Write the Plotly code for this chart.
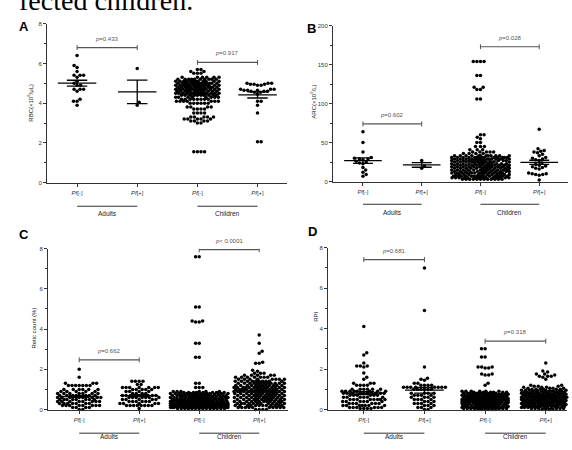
import numpy as np
import plotly.graph_objects as go

W, H = 572, 450

# ---------------- data ----------------
cat_labels = ["<i>Pf</i>[-]", "<i>Pf</i>[+]", "<i>Pf</i>[-]", "<i>Pf</i>[+]"]
group_labels = ["Adults", "Children"]

# Panel A : RBC
a_adult_neg = [6.4, 5.9, 5.8, 5.6, 5.4, 5.4, 5.4, 5.3, 5.1, 5.0, 4.9, 4.9, 4.7, 4.7, 4.7, 4.6, 4.2, 4.1, 4.1, 3.9]
a_adult_pos = [5.75, 4.05, 3.9]
a_child_neg_vals = [5.7, 5.6, 5.5, 5.3, 5.2, 5.1, 5.0, 4.9, 4.8, 4.7, 4.6, 4.5, 4.4, 4.3, 4.2, 4.1, 4.0, 3.8, 3.7, 3.5, 3.3, 3.2, 3.1, 3.0, 1.55]
a_child_neg_counts = [2, 2, 3, 6, 10, 12, 14, 14, 14, 14, 12, 12, 10, 8, 8, 7, 6, 4, 4, 4, 5, 5, 4, 2, 4]
a_child_pos = [5.0, 5.0, 5.0, 4.95, 4.95, 4.95, 4.9, 4.9, 4.7, 4.7, 4.7, 4.65, 4.65, 4.65, 4.6, 4.6, 4.6,
               4.55, 4.55, 4.45, 4.1, 4.1, 3.9, 3.5, 2.05, 2.05]
a_brackets_y = [6.8, 6.05]
a_pvalues = ["<i>p</i>=0.433", "<i>p</i>=0.917"]

# Panel B : ARC
b_adult_neg = [64, 50, 38, 31, 30, 29, 29, 28, 26, 25, 24, 23, 18, 15, 12, 9, 7]
b_adult_pos = [27, 20, 17]
b_child_neg_vals = [154, 136, 121, 118, 106, 60, 57, 55, 50, 45, 41, 38, 36,
                    33, 31, 29, 27, 25, 23, 21, 19, 17, 15, 13, 11, 9, 7, 5, 3]
b_child_neg_counts = [4, 2, 2, 2, 2, 2, 1, 1, 2, 3, 3, 5, 4,
                      12, 14, 12, 10, 10, 12, 12, 12, 12, 12, 12, 12, 12, 14, 14, 12]
b_child_pos = [67, 42, 40, 39, 38, 37, 35, 33, 31, 30, 29, 28, 27, 24, 22, 21, 20, 19, 18, 17, 16,
               11, 10, 10, 9, 9, 8, 2]
b_brackets_y = [74, 173]
b_pvalues = ["<i>p</i>=0.602", "<i>p</i>=0.028"]

# Panel C : Retic count (%)
c_adult_neg_vals = [2.0, 1.6, 1.3, 1.2, 1.0, 0.9, 0.8, 0.7, 0.6, 0.5, 0.4, 0.3, 0.2, 0.1, 0.0]
c_adult_neg_counts = [1, 1, 3, 7, 6, 5, 7, 7, 8, 8, 8, 7, 8, 4, 2]
c_adult_pos_vals = [1.4, 1.25, 1.1, 1.0, 0.9, 0.8, 0.7, 0.6, 0.5, 0.4, 0.3, 0.2, 0.05]
c_adult_pos_counts = [4, 2, 7, 5, 4, 4, 5, 7, 5, 6, 5, 8, 1]
c_child_neg_vals = [7.6, 5.1, 4.4, 4.35, 3.3, 2.6, 1.3, 1.1, 0.9, 0.85, 0.8, 0.75, 0.7, 0.65, 0.6, 0.55,
                    0.5, 0.45, 0.4, 0.35, 0.3, 0.25, 0.2, 0.15, 0.1, 0.05]
c_child_neg_counts = [2, 2, 2, 2, 2, 2, 2, 3, 6, 8, 10, 6, 10, 8, 10, 8, 12, 10, 14, 12, 14, 12, 14, 12, 14, 14]
c_child_pos_vals = [3.7, 3.3, 2.9, 2.8, 2.35, 2.3, 1.95, 1.9, 1.8, 1.7, 1.6, 1.5, 1.4, 1.3, 1.2, 1.1, 1.0,
                    0.9, 0.8, 0.7, 0.6, 0.5, 0.4, 0.3, 0.2, 0.1, 0.0]
c_child_pos_counts = [1, 1, 1, 1, 1, 2, 1, 1, 3, 5, 7, 8, 10, 12, 12, 14, 14, 14, 12, 12, 12, 12, 12, 12, 12, 10, 4]
c_brackets_y = [2.47, 7.95]
c_pvalues = ["<i>p</i>=0.662", "<i>p</i>< 0.0001"]

# Panel D : RPI
d_adult_neg_vals = [4.1, 2.8, 2.7, 2.3, 2.15, 2.1, 1.8, 1.6, 1.5, 1.3, 1.2, 1.0, 0.9, 0.8, 0.7, 0.6, 0.5,
                    0.4, 0.3, 0.2, 0.1, 0.05]
d_adult_neg_counts = [1, 1, 1, 1, 3, 1, 1, 1, 1, 3, 4, 6, 8, 10, 6, 6, 8, 6, 6, 7, 6, 4]
d_adult_pos_vals = [7.0, 4.9, 2.1, 1.55, 1.5, 1.45, 1.3, 1.2, 1.1, 1.0, 0.8, 0.7, 0.6, 0.5, 0.4, 0.3, 0.2, 0.1, 0.0]
d_adult_pos_counts = [1, 1, 1, 1, 1, 1, 2, 4, 8, 6, 4, 4, 4, 4, 3, 4, 3, 3, 2]
d_child_neg_vals = [3.0, 2.6, 2.1, 2.05, 1.75, 1.7, 1.3, 1.2, 0.9, 0.85, 0.8, 0.75, 0.7, 0.65, 0.6, 0.55,
                    0.5, 0.45, 0.4, 0.35, 0.3, 0.25, 0.2, 0.15, 0.1, 0.05, 0.0]
d_child_neg_counts = [2, 2, 3, 2, 2, 2, 1, 1, 6, 6, 8, 8, 10, 8, 10, 8, 10, 8, 10, 8, 10, 8, 10, 8, 10, 8, 6]
d_child_pos_vals = [2.3, 1.9, 1.85, 1.75, 1.7, 1.65, 1.6, 1.5, 1.2, 1.15, 1.1, 1.05, 1.0, 0.95, 0.9, 0.85,
                    0.8, 0.75, 0.7, 0.65, 0.6, 0.55, 0.5, 0.45, 0.4, 0.35, 0.3, 0.25, 0.2, 0.15, 0.1, 0.05, 0.0]
d_child_pos_counts = [1, 1, 1, 2, 1, 3, 1, 1, 2, 3, 4, 4, 6, 6, 8, 8, 8, 8, 10, 8, 10, 8, 10, 8, 10, 8, 10,
                      8, 10, 8, 8, 6, 4]
d_brackets_y = [7.41, 3.38]
d_pvalues = ["<i>p</i>=0.681", "<i>p</i>=0.318"]


def expand(vals, counts):
    return list(np.repeat(np.asarray(vals, float), counts))


# ---------------- panel geometry (pixels) ----------------
panels = [
    dict(letter="A", letter_xy=(17, 14),
         groups=[a_adult_neg, a_adult_pos, expand(a_child_neg_vals, a_child_neg_counts), a_child_pos],
         spread=[0.36, 0.36, 0.36, 0.38],
         yr=[0, 8], dtick=2, minor=1, ytitle="RBC(×10<sup>6</sup>/μL)", ytitle_xy=(30, 101),
         xpx=(47, 287), ypx=(21, 182), xr=[-0.5, 3.49],
         brackets=a_brackets_y, pvals=a_pvalues,
         gline_y=206, gtext_y=213),
    dict(letter="B", letter_xy=(311, 16),
         groups=[b_adult_neg, b_adult_pos, expand(b_child_neg_vals, b_child_neg_counts), b_child_pos],
         spread=[0.36, 0.36, 0.49, 0.36],
         yr=[0, 200], dtick=50, minor=25, ytitle="ARC(×10<sup>9</sup>/L)", ytitle_xy=(313, 100),
         xpx=(333, 568), ypx=(23, 181), xr=[-0.51, 3.49],
         brackets=b_brackets_y, pvals=b_pvalues,
         gline_y=204, gtext_y=212),
    dict(letter="C", letter_xy=(17, 235),
         groups=[expand(c_adult_neg_vals, c_adult_neg_counts), expand(c_adult_pos_vals, c_adult_pos_counts),
                 expand(c_child_neg_vals, c_child_neg_counts), expand(c_child_pos_vals, c_child_pos_counts)],
         spread=[0.36, 0.36, 0.48, 0.42],
         yr=[0, 8], dtick=2, minor=1, ytitle="Retic count (%)", ytitle_xy=(34, 330),
         xpx=(48, 288), ypx=(249, 412), xr=[-0.52, 3.48],
         brackets=c_brackets_y, pvals=c_pvalues,
         gline_y=436, gtext_y=445),
    dict(letter="D", letter_xy=(312, 232),
         groups=[expand(d_adult_neg_vals, d_adult_neg_counts), expand(d_adult_pos_vals, d_adult_pos_counts),
                 expand(d_child_neg_vals, d_child_neg_counts), expand(d_child_pos_vals, d_child_pos_counts)],
         spread=[0.36, 0.36, 0.38, 0.40],
         yr=[0, 8], dtick=2, minor=1, ytitle="RPI", ytitle_xy=(316, 318),
         xpx=(328, 567), ypx=(248, 412), xr=[-0.59, 3.35],
         brackets=d_brackets_y, pvals=d_pvalues,
         gline_y=436, gtext_y=445),
]

MARKER = 3.5
DIST = 3.6


def swarm(vals, ppu_y, d, maxhalf):
    """Beeswarm offsets (pixels); points that cannot fit inside +-maxhalf are
    placed where they overlap least."""
    v = np.asarray(vals, float)
    order = np.argsort(v, kind="stable")
    ys = v[order] * ppu_y
    xs = np.zeros(len(ys))
    grid = np.linspace(-maxhalf, maxhalf, 61)
    for i in range(1, len(ys)):
        py = ys[:i]
        px = xs[:i]
        m = np.abs(py - ys[i]) < d
        if not m.any():
            continue
        npy, npx = py[m], px[m]
        dy = ys[i] - npy
        dx = np.sqrt(np.maximum(d * d - dy * dy, 0))
        cands = np.concatenate([[0.0], npx + dx, npx - dx])
        cands = cands[np.abs(cands) <= maxhalf]
        side = 1 if i % 2 else -1
        key = np.abs(cands) + 1e-6 * (np.sign(cands) == -side)
        cands = cands[np.argsort(key)]
        placed = False
        for c in cands:
            if np.all((c - npx) ** 2 + dy ** 2 >= d * d - 1e-6):
                xs[i] = c
                placed = True
                break
        if not placed:
            dist2 = (grid[:, None] - npx[None, :]) ** 2 + dy[None, :] ** 2
            score = dist2.min(axis=1) - 1e-4 * np.abs(grid)
            xs[i] = grid[np.argmax(score)]
    out = np.empty_like(xs)
    out[order] = xs
    return out


def px2paper(x, y):
    return x / W, 1 - y / H


fig = go.Figure()
layout = dict(width=W, height=H, margin=dict(l=0, r=0, t=0, b=0),
              paper_bgcolor="white", plot_bgcolor="white", showlegend=False,
              font=dict(family="Liberation Sans, Arial, sans-serif", size=6, color="#222"))
annotations = []
shapes = []
AX = "#333"

for k, p in enumerate(panels, start=1):
    xs_name = "x" if k == 1 else f"x{k}"
    ys_name = "y" if k == 1 else f"y{k}"
    xkey = "xaxis" if k == 1 else f"xaxis{k}"
    ykey = "yaxis" if k == 1 else f"yaxis{k}"
    x0, x1 = p["xpx"]
    y0, y1 = p["ypx"]
    ppu_x = (x1 - x0) / (p["xr"][1] - p["xr"][0])
    ppu_y = (y1 - y0) / (p["yr"][1] - p["yr"][0])

    layout[xkey] = dict(domain=[x0 / W, x1 / W], range=p["xr"], anchor=ys_name,
                        showline=True, linecolor=AX, linewidth=1, mirror=False,
                        tickvals=[0, 1, 2, 3], ticktext=cat_labels, ticks="outside", ticklen=3,
                        tickcolor=AX, tickwidth=1, tickfont=dict(size=6, color="#333"),
                        ticklabelstandoff=1,
                        showgrid=False, zeroline=False, fixedrange=True)
    layout[ykey] = dict(domain=[1 - y1 / H, 1 - y0 / H], range=p["yr"], anchor=xs_name,
                        showline=True, linecolor=AX, linewidth=1,
                        tick0=0, dtick=p["dtick"], ticks="outside", ticklen=3, tickcolor=AX, tickwidth=1,
                        minor=dict(dtick=p["minor"], ticks="outside", ticklen=2, tickcolor=AX),
                        tickfont=dict(size=6, color="#333"),
                        showgrid=False, zeroline=False, fixedrange=True)

    mx, my = [], []
    for gi, vals in enumerate(p["groups"]):
        vals = np.asarray(vals, float)
        off = swarm(vals, ppu_y, DIST, p["spread"][gi] * ppu_x) / ppu_x
        fig.add_trace(go.Scatter(x=gi + off, y=vals, mode="markers", xaxis=xs_name, yaxis=ys_name,
                                 marker=dict(size=MARKER, color="black", line=dict(width=0)),
                                 cliponaxis=False, hoverinfo="skip"))
        m = vals.mean()
        sem = vals.std(ddof=1) / np.sqrt(len(vals))
        mx += [gi - 0.32, gi + 0.32, None, gi - 0.17, gi + 0.17, None, gi - 0.17, gi + 0.17, None, gi, gi, None]
        my += [m, m, None, m + sem, m + sem, None, m - sem, m - sem, None, m - sem, m + sem, None]
    fig.add_trace(go.Scatter(x=mx, y=my, mode="lines", xaxis=xs_name, yaxis=ys_name,
                             line=dict(color="black", width=1.3), cliponaxis=False, hoverinfo="skip"))

    # significance brackets
    for bi, (by, ptxt) in enumerate(zip(p["brackets"], p["pvals"])):
        c0, c1 = 2 * bi, 2 * bi + 1
        shapes.append(dict(type="line", xref=xs_name, yref=ys_name, x0=c0, x1=c1, y0=by, y1=by,
                           line=dict(color="#555", width=1.2)))
        for cc in (c0, c1):
            shapes.append(dict(type="line", xref=xs_name, yref=ys_name, ysizemode="pixel", yanchor=by,
                               x0=cc, x1=cc, y0=-2.5, y1=2.5, line=dict(color="#555", width=1)))
        annotations.append(dict(x=(c0 + c1) / 2, y=by, xref=xs_name, yref=ys_name, text=ptxt,
                                showarrow=False, yanchor="bottom", yshift=4,
                                font=dict(size=6, color="#555")))

    # group lines and labels
    for gi, gname in enumerate(group_labels):
        c0, c1 = 2 * gi, 2 * gi + 1
        _, gy = px2paper(0, p["gline_y"])
        shapes.append(dict(type="line", xref=xs_name, yref="paper", x0=c0, x1=c1, y0=gy, y1=gy,
                           line=dict(color="#333", width=1)))
        _, ty = px2paper(0, p["gtext_y"])
        annotations.append(dict(x=(c0 + c1) / 2, y=ty, xref=xs_name, yref="paper", text=gname,
                                showarrow=False, font=dict(size=6.5, color="#222")))

    # y title
    tx, ty = px2paper(*p["ytitle_xy"])
    annotations.append(dict(x=tx, y=ty, xref="paper", yref="paper", text=p["ytitle"], textangle=-90,
                            xanchor="center", yanchor="middle",
                            showarrow=False, font=dict(size=6, color="#222")))
    # panel letter
    lx, ly = px2paper(*p["letter_xy"])
    annotations.append(dict(x=lx, y=ly, xref="paper", yref="paper", text="<b>" + p["letter"] + "</b>",
                            showarrow=False, font=dict(size=13, color="black",
                                                       family="Liberation Sans, Arial, sans-serif")))

# cropped caption text at the very top
cx, cy = px2paper(17, 15)
annotations.append(dict(x=cx, y=cy, xref="paper", yref="paper", text="fected children.", xanchor="left",
                        yanchor="bottom", showarrow=False,
                        font=dict(size=28, color="black", family="Liberation Serif, Times New Roman, serif")))

layout["annotations"] = annotations
layout["shapes"] = shapes
fig.update_layout(**layout)
fig.write_html("out.html", config={"displayModeBar": False, "staticPlot": True},
               post_script="document.body.style.margin='0';")
